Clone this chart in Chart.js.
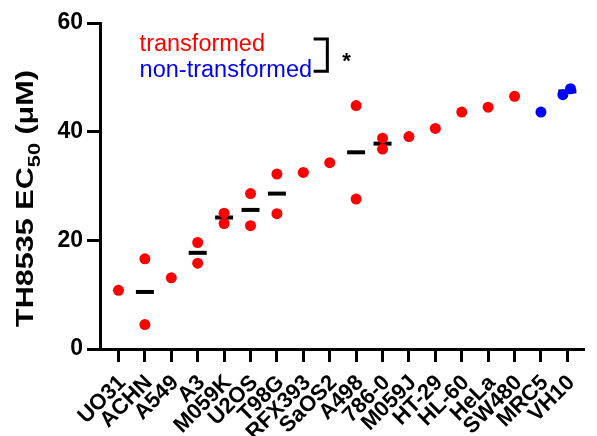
<!DOCTYPE html>
<html>
<head>
<meta charset="utf-8">
<script src="https://cdn.jsdelivr.net/npm/chart.js@4.4.0/dist/chart.umd.min.js"></script>
<style>
  html, body { margin: 0; padding: 0; background: #fff; }
</style>
</head>
<body>
<canvas id="ec50-chart" width="597" height="436"></canvas>
<script>
// cell lines along the x axis
const cellLines = ["UO31", "ACHN", "A549", "A3", "M059K", "U2OS", "T98G", "RFX393", "SaOS2",
  "A498", "786-0", "M059J", "HT-29", "HL-60", "HeLa", "SW480", "MRC5", "VH10"];

// replicate EC50 values (uM), one array per transformed line (UO31 .. SW480)
const transformedValues = [
  [10.8], [16.6, 4.5], [13.1], [19.6, 15.8], [25.0, 23.1], [28.6, 22.7], [32.2, 24.9],
  [32.5], [34.3], [44.8, 27.6], [38.8, 36.8], [39.1], [40.6], [43.6], [44.5], [46.5]
];
const nonTransformedLines = ["MRC5", "VH10"];
const nonTransformedValues = [[43.6], [46.8, 47.9]];
// sideways shift of overlapping replicates
const nonTransformedJitter = [[0], [-0.17, 0.12]];

// mean bars, only for lines with replicates
const meanLines = ["ACHN", "A3", "M059K", "U2OS", "T98G", "A498", "786-0", "VH10"];
const meanValues = [10.5, 17.7, 24.2, 25.6, 28.6, 36.2, 37.8, 47.4];

const yTicks = [0, 20, 40, 60];

const FONT = "'Liberation Sans', Arial, sans-serif";

let transformedPoints = [];
transformedValues.forEach((vals, i) => {
  vals.forEach((v) => transformedPoints.push({ x: i, y: v }));
});

let nonTransformedPoints = [];
nonTransformedLines.forEach((name, k) => {
  let i = cellLines.indexOf(name);
  nonTransformedValues[k].forEach((v, j) => {
    nonTransformedPoints.push({ x: i + nonTransformedJitter[k][j], y: v });
  });
});

let meanPoints = meanLines.map((name, k) => ({ x: cellLines.indexOf(name), y: meanValues[k] }));

// legend text, bracket and y title drawn straight on the canvas
const annotations = {
  id: "annotations",
  afterDraw(chart) {
    const ctx = chart.ctx;
    const x = chart.scales.x;
    const y = chart.scales.y;
    ctx.save();

    ctx.font = "23.5px " + FONT;
    ctx.textAlign = "left";
    ctx.textBaseline = "alphabetic";
    ctx.fillStyle = "#ff0000";
    ctx.fillText("transformed", x.getPixelForValue(0.8), y.getPixelForValue(54.85));
    ctx.fillStyle = "#0000ff";
    ctx.fillText("non-transformed", x.getPixelForValue(0.8), y.getPixelForValue(50.06));

    // bracket with star
    let bl = x.getPixelForValue(7.39);
    let br = x.getPixelForValue(7.91);
    let bt = y.getPixelForValue(57.06);
    let bb = y.getPixelForValue(51.11);
    ctx.strokeStyle = "#000";
    ctx.lineWidth = 3;
    ctx.lineCap = "butt";
    ctx.beginPath();
    ctx.moveTo(bl, bt);
    ctx.lineTo(br, bt);
    ctx.lineTo(br, bb);
    ctx.lineTo(bl, bb);
    ctx.stroke();
    ctx.fillStyle = "#000";
    ctx.font = "bold 22px " + FONT;
    ctx.fillText("*", x.getPixelForValue(8.47), y.getPixelForValue(51.7));

    // y axis title with subscript
    const mainFont = "bold 24px " + FONT;
    const subFont = "bold 17px " + FONT;
    ctx.font = mainFont;
    let w1 = ctx.measureText("TH8535 EC").width;
    let w3 = ctx.measureText(" (\u03bcM)").width;
    ctx.font = subFont;
    let w2 = ctx.measureText("50").width;
    let total = w1 + w2 + w3;
    let stretch = 257 / total;
    ctx.translate(33, 198.5);
    ctx.rotate(-Math.PI / 2);
    ctx.scale(stretch, 1);
    let cx = -total / 2;
    ctx.font = mainFont;
    ctx.fillText("TH8535 EC", cx, 0);
    cx += w1;
    ctx.font = subFont;
    ctx.fillText("50", cx, 7);
    cx += w2;
    ctx.font = mainFont;
    ctx.fillText(" (\u03bcM)", cx, 0);

    ctx.restore();
  },
};

const axisGrid = {
  display: true,
  drawOnChartArea: false,
  drawTicks: true,
  tickLength: 13,
  tickWidth: 3,
  tickColor: "#000",
};
const axisBorder = { display: true, width: 3, color: "#000" };

let ctx = document.getElementById("ec50-chart").getContext("2d");
let chart = new Chart(ctx, {
  type: "scatter",
  data: {
    datasets: [
      {
        label: "transformed",
        data: transformedPoints,
        backgroundColor: "#ff0000",
        pointRadius: 5.5,
        pointHoverRadius: 5.5,
        pointBorderWidth: 0,
      },
      {
        label: "non-transformed",
        data: nonTransformedPoints,
        backgroundColor: "#0000ff",
        pointRadius: 5.5,
        pointHoverRadius: 5.5,
        pointBorderWidth: 0,
      },
      {
        label: "mean",
        data: meanPoints,
        pointStyle: "line",
        pointRadius: 9,
        pointHoverRadius: 9,
        pointBorderWidth: 4,
        pointBorderColor: "#000",
      },
    ],
  },
  options: {
    responsive: false,
    animation: false,
    devicePixelRatio: 1,
    layout: { padding: { top: 23, right: 0, bottom: 0, left: 0 } },
    plugins: { legend: { display: false }, tooltip: { enabled: false } },
    scales: {
      x: {
        type: "linear",
        min: -0.7,
        max: 17.63,
        afterBuildTicks: (axis) => {
          axis.ticks = cellLines.map((_, i) => ({ value: i }));
        },
        afterFit: (axis) => {
          axis.height = 87;
        },
        ticks: {
          autoSkip: false,
          minRotation: 45,
          maxRotation: 45,
          padding: 8,
          labelOffset: 4,
          color: "#000",
          font: { family: FONT, size: 22, weight: "bold" },
          callback: (value) => cellLines[value],
        },
        grid: axisGrid,
        border: axisBorder,
      },
      y: {
        min: 0,
        max: 60,
        afterBuildTicks: (axis) => {
          axis.ticks = yTicks.map((v) => ({ value: v }));
        },
        afterFit: (axis) => {
          axis.width = 100;
        },
        ticks: {
          padding: 4,
          color: "#000",
          font: { family: FONT, size: 23, weight: "bold" },
        },
        grid: axisGrid,
        border: axisBorder,
      },
    },
  },
  plugins: [annotations],
});
</script>
</body>
</html>
